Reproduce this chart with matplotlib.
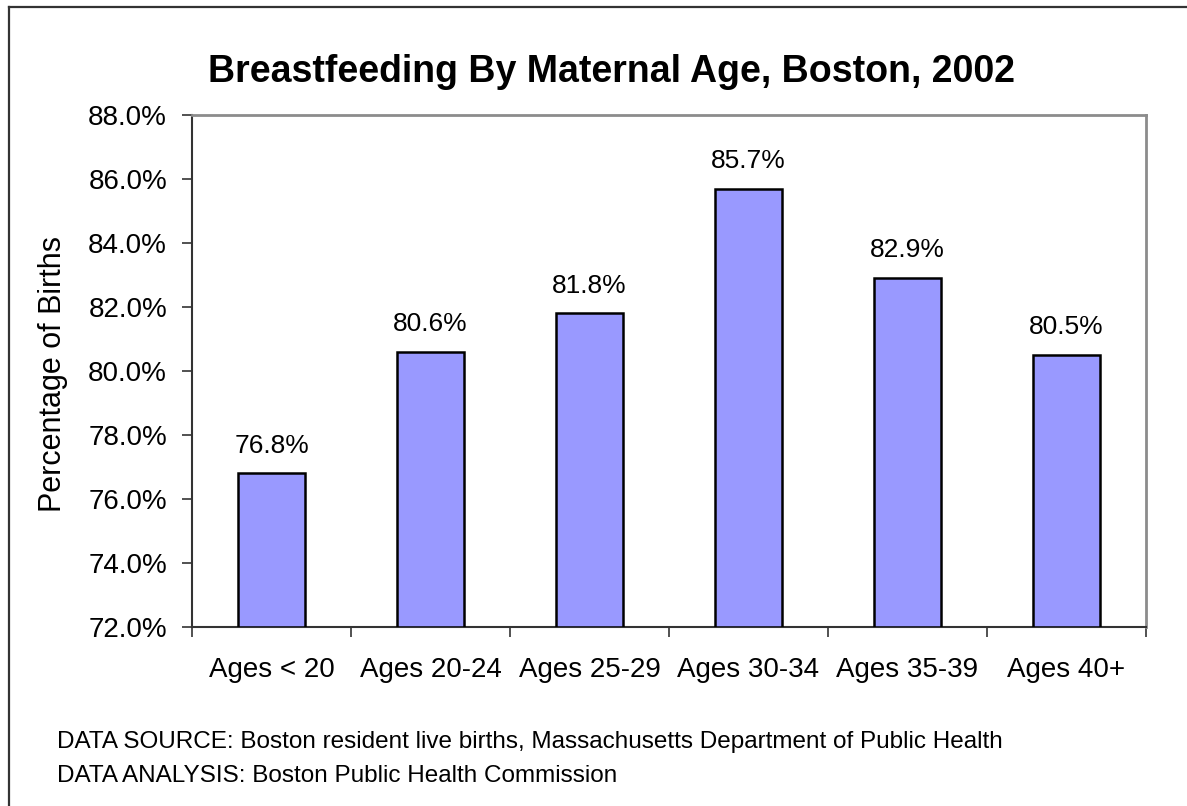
import matplotlib
matplotlib.use("Agg")
import matplotlib.pyplot as plt
from matplotlib.lines import Line2D
from matplotlib.ticker import FixedLocator, FuncFormatter

plt.rcParams['font.family'] = ['Liberation Sans', 'DejaVu Sans']

# data
age_groups = ['Ages < 20', 'Ages 20-24', 'Ages 25-29', 'Ages 30-34', 'Ages 35-39', 'Ages 40+']
pct_breastfed = [76.8, 80.6, 81.8, 85.7, 82.9, 80.5]
y_ticks = [72, 74, 76, 78, 80, 82, 84, 86, 88]

W, H = 1187, 806
fig = plt.figure(figsize=(W / 100, H / 100), dpi=100)
fig.patch.set_facecolor('white')

# outer frame (only left and top edges fall inside the picture)
fig.add_artist(Line2D([9 / W, 9 / W], [0, 1 - 7 / H], color='#333333', lw=1.6))
fig.add_artist(Line2D([9 / W, 1], [1 - 7 / H, 1 - 7 / H], color='#333333', lw=1.6))

left, right, top, bottom = 192, 1146, 115, 627
ax = fig.add_axes([left / W, 1 - bottom / H, (right - left) / W, (bottom - top) / H])

x = range(len(age_groups))
bars = ax.bar(x, [v - 72 for v in pct_breastfed], bottom=72, width=0.42,
              color='#9999FF', edgecolor='black', linewidth=1.8, zorder=3)

for xi, v in zip(x, pct_breastfed):
    ax.annotate(f'{v:.1f}%', (xi, v), xytext=(0, 15), textcoords='offset points',
                ha='center', va='baseline', fontsize=19)

ax.set_xlim(-0.5, len(age_groups) - 0.5)
ax.set_ylim(72, 88)
ax.set_yticks(y_ticks)
ax.yaxis.set_major_formatter(FuncFormatter(lambda v, p: f'{v:.1f}%'))

# boundary ticks, labels in the middle
ax.xaxis.set_major_locator(FixedLocator([i - 0.5 for i in range(len(age_groups) + 1)]))
ax.xaxis.set_major_formatter(FuncFormatter(lambda v, p: ''))
ax.xaxis.set_minor_locator(FixedLocator(list(x)))
ax.set_xticklabels(age_groups, minor=True)
ax.tick_params(axis='x', which='major', direction='out', length=7, width=1.2, color='#333333')
ax.tick_params(axis='x', which='minor', length=0, pad=21.5, labelsize=20)
ax.tick_params(axis='y', direction='out', length=7, width=1.2, color='#333333', pad=11, labelsize=20)

for s in ['top', 'right']:
    ax.spines[s].set_color('#8c8c8c')
    ax.spines[s].set_linewidth(2)
for s in ['left', 'bottom']:
    ax.spines[s].set_color('#333333')
    ax.spines[s].set_linewidth(1.5)

ax.set_ylabel('Percentage of Births', fontsize=22)
ax.yaxis.set_label_coords(-0.130, 0.494)

fig.text(208 / W, 1 - 82 / H, 'Breastfeeding By Maternal Age, Boston, 2002',
         fontsize=27, fontweight='bold', ha='left', va='baseline')
fig.text(57 / W, 1 - 748 / H,
         'DATA SOURCE: Boston resident live births, Massachusetts Department of Public Health',
         fontsize=17.5, ha='left', va='baseline')
fig.text(57 / W, 1 - 782 / H, 'DATA ANALYSIS: Boston Public Health Commission',
         fontsize=17.5, ha='left', va='baseline')

fig.savefig('out.png', dpi=100)
